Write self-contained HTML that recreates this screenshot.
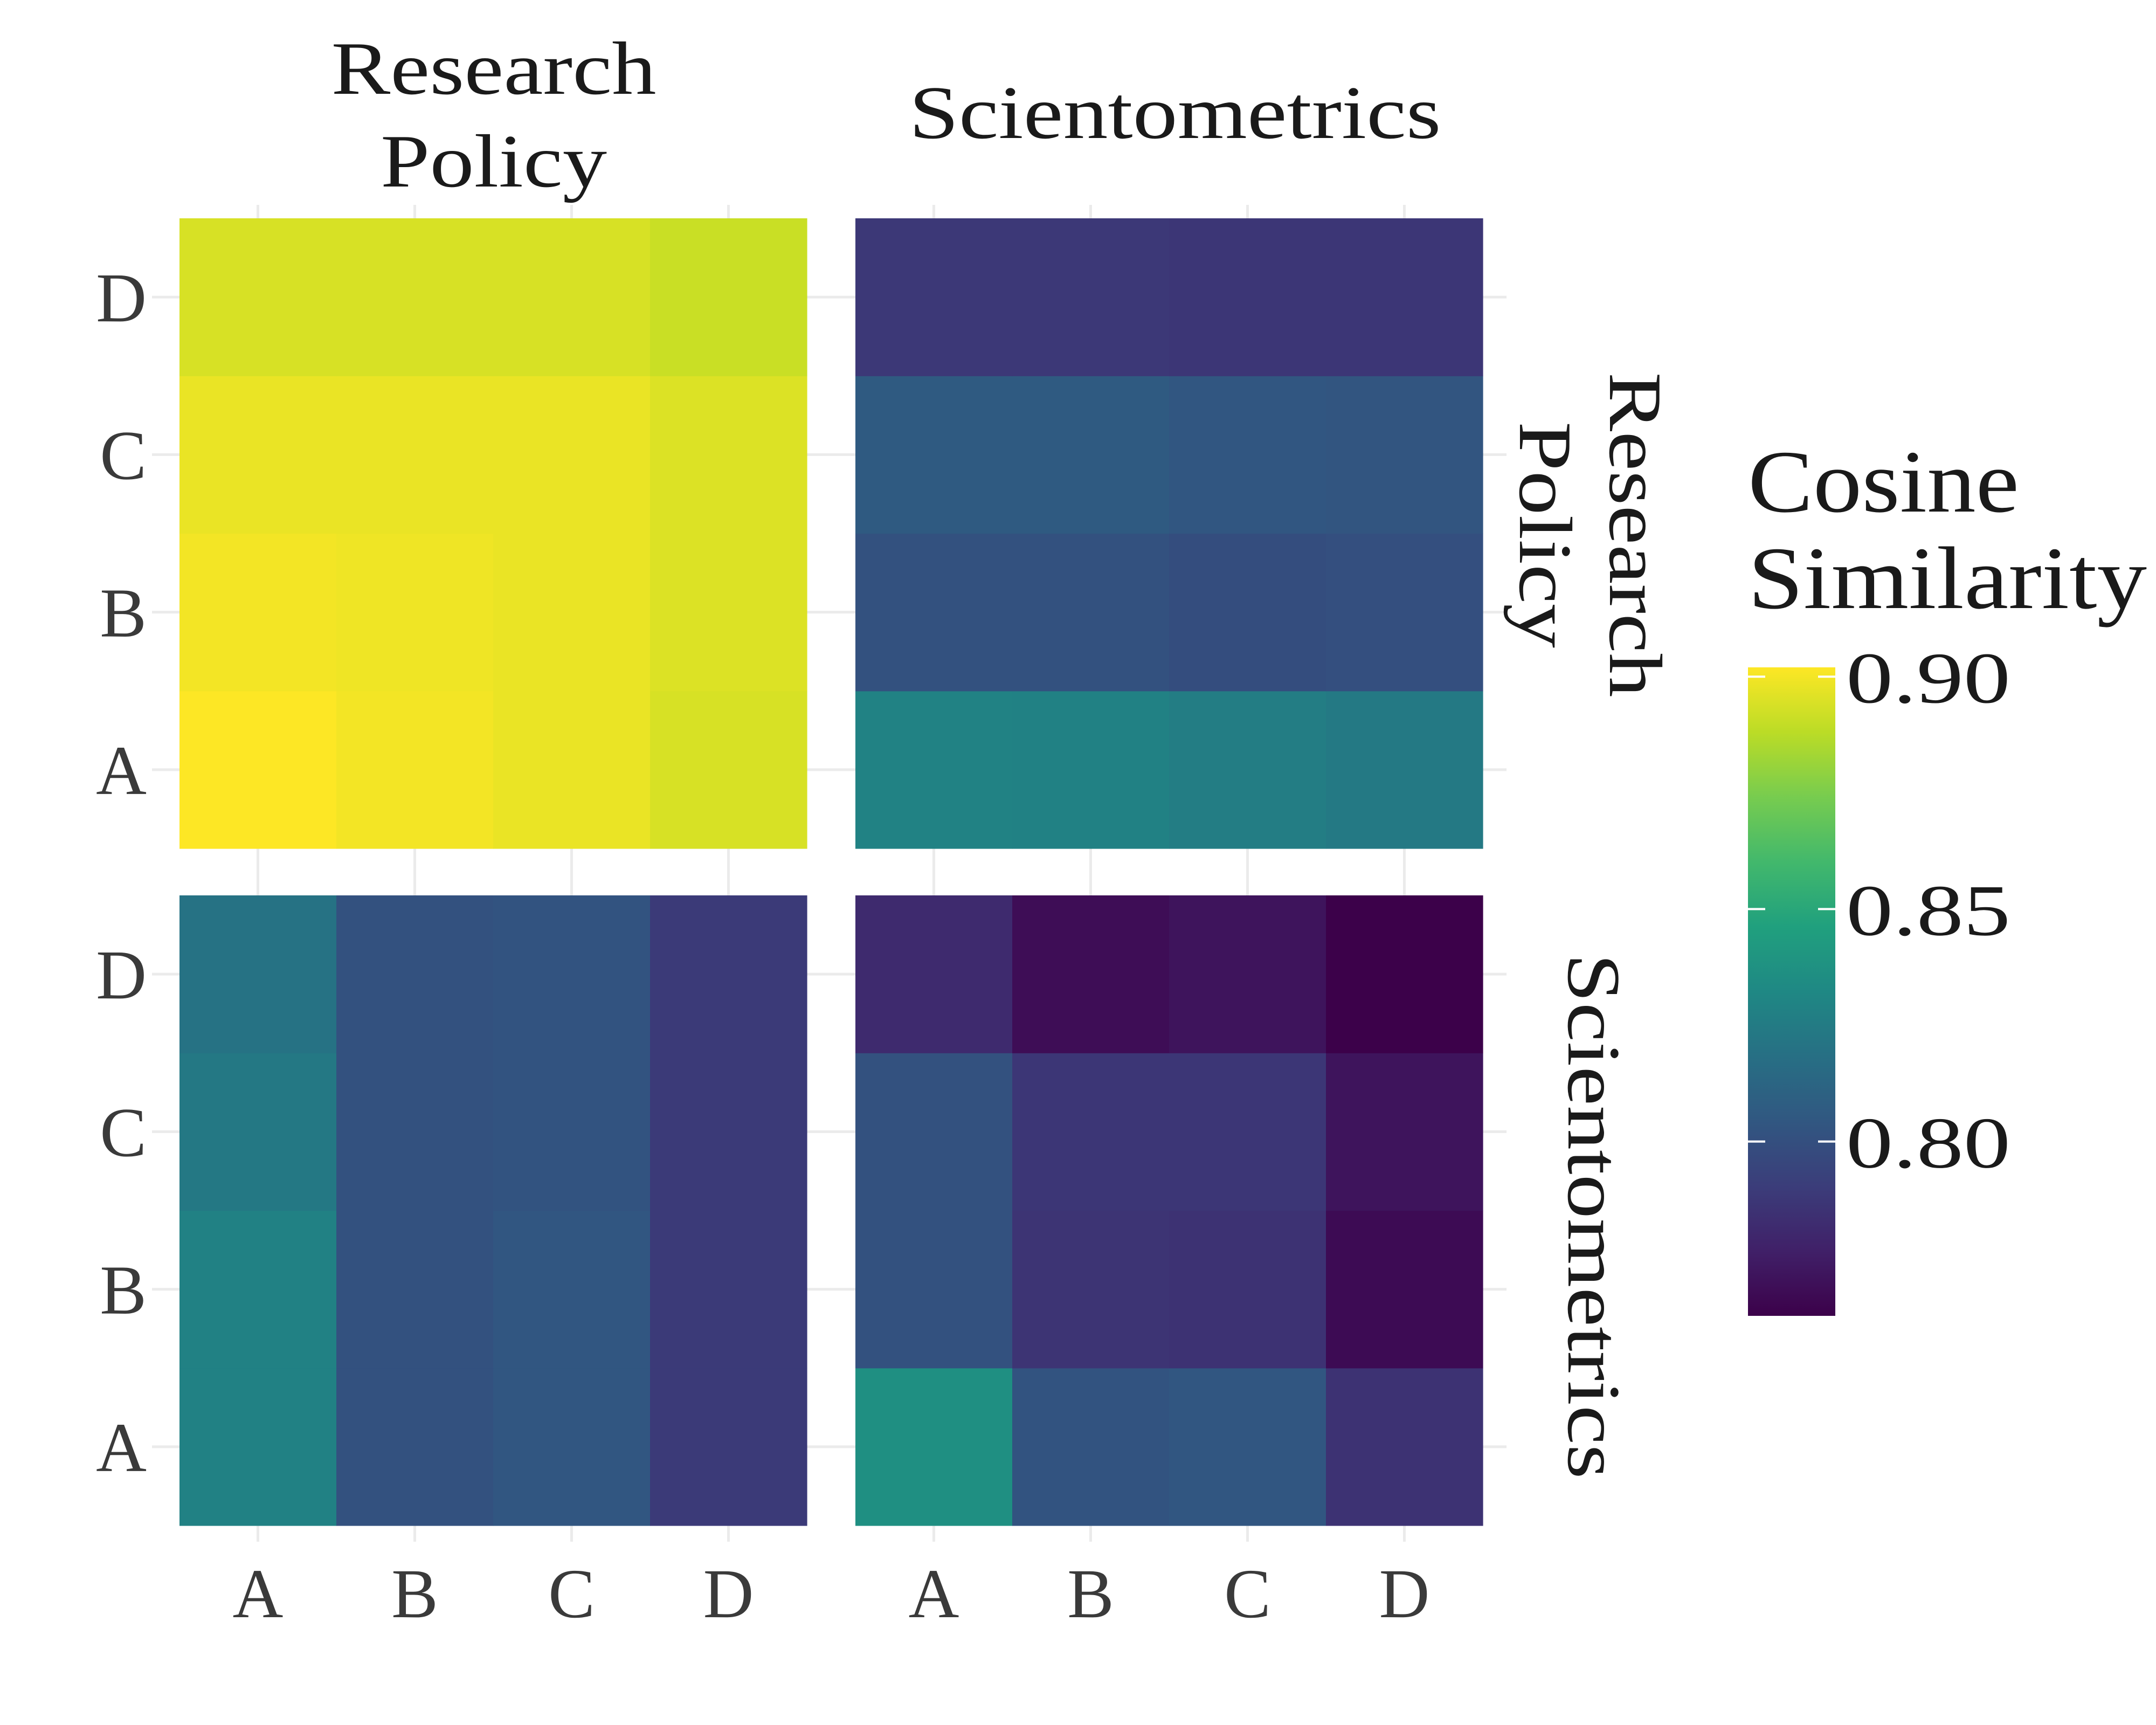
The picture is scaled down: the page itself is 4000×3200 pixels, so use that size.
<!DOCTYPE html>
<html><head><meta charset="utf-8"><style>
html,body{margin:0;padding:0;background:#fff}
svg{display:block}
text{font-family:"Liberation Serif",serif}
</style></head><body>
<svg id="chart" width="4000" height="3200" viewBox="0 0 4000 3200" xmlns="http://www.w3.org/2000/svg">
<defs><linearGradient id="vir" x1="0" y1="1" x2="0" y2="0"></linearGradient></defs>
<g id="grid"></g><g id="tiles"></g><g id="labels"></g><g id="legend"></g>
</svg>
<script>
const categories = ["A","B","C","D"];
const journals = ["Research Policy","Scientometrics"];
const rpRp = [[0.902,0.900,0.898,0.894],[0.900,0.899,0.898,0.895],[0.898,0.898,0.898,0.895],[0.894,0.894,0.894,0.891]];
const rpSci = [[0.829,0.828,0.826,0.824],[0.801,0.801,0.799,0.800],[0.806,0.806,0.804,0.803],[0.788,0.788,0.787,0.787]];
const sciRp = [[0.828,0.801,0.804,0.789],[0.828,0.801,0.804,0.789],[0.823,0.801,0.802,0.789],[0.820,0.801,0.802,0.789]];
const sciSci = [[0.836,0.802,0.804,0.785],[0.801,0.786,0.785,0.767],[0.801,0.787,0.787,0.771],[0.781,0.768,0.771,0.7625]];
const legendTicks = [0.80,0.85,0.90];
const vMin = 0.7625, vMax = 0.902;

const NS="http://www.w3.org/2000/svg";
function mk(tag,attrs,parent){const e=document.createElementNS(NS,tag);for(const k in attrs)e.setAttribute(k,attrs[k]);parent.appendChild(e);return e;}
const vir=["#440154","#482475","#414487","#355f8d","#2a788e","#21918c","#22a884","#44bf70","#7ad151","#bddf26","#fde725"];
function hex(h){return [1,3,5].map(i=>parseInt(h.substr(i,2),16));}
function color(v){let t=(v-vMin)/(vMax-vMin);t=Math.max(0,Math.min(1,t));const p=t*10,i=Math.min(9,Math.floor(p)),f=p-i;const a=hex(vir[i]),b=hex(vir[i+1]);const d=0.88+0.12*t;return `rgb(${a.map((c,k)=>Math.round((c+(b[k]-c)*f)*d)).join(',')})`;}

const panelX=[[333,1497],[1587,2751]];
const panelY=[[405,1574],[1661,2830]];
const data=[[rpRp,rpSci],[sciRp,sciSci]];
function xScale(pc,i){const [a,b]=panelX[pc];const w=(b-a)/4;return a+w*(i+0.5);}
function yScale(pr,i){const [a,b]=panelY[pr];const h=(b-a)/4;return b-h*(i+0.5);}

const grid=document.getElementById('grid'),tiles=document.getElementById('tiles'),labels=document.getElementById('labels');
for(let pr=0;pr<2;pr++)for(let i=0;i<4;i++){const y=yScale(pr,i);const l=mk('line',{x1:282,x2:2795,y1:y,y2:y,stroke:'#ebebeb','stroke-width':5},grid);}
for(let pc=0;pc<2;pc++)for(let i=0;i<4;i++){const x=xScale(pc,i);const l=mk('line',{x1:x,x2:x,y1:380,y2:2860,stroke:'#ebebeb','stroke-width':5},grid);}

for(let pr=0;pr<2;pr++)for(let pc=0;pc<2;pc++){
  const w=(panelX[pc][1]-panelX[pc][0])/4,h=(panelY[pr][1]-panelY[pr][0])/4;
  for(let yi=0;yi<4;yi++)for(let xi=0;xi<4;xi++){
    const v=data[pr][pc][yi][xi];
    const r=mk('rect',{x:xScale(pc,xi)-w/2,y:yScale(pr,yi)-h/2,width:w+0.6,height:h+0.6,fill:color(v)},tiles);
    
    
  }
}
for(let pr=0;pr<2;pr++)for(let i=0;i<4;i++){const t=mk('text',{x:272,y:yScale(pr,i)+45,'text-anchor':'end','font-size':130,fill:'#3a3a3a'},labels);t.textContent=categories[i];}
for(let pc=0;pc<2;pc++)for(let i=0;i<4;i++){const t=mk('text',{x:xScale(pc,i),y:3000,'text-anchor':'middle','font-size':130,fill:'#3a3a3a'},labels);t.textContent=categories[i];}
function txt(s,attrs,name){const t=mk('text',Object.assign({'font-size':140,fill:'#1a1a1a','text-anchor':'middle',lengthAdjust:'spacingAndGlyphs'},attrs),labels);t.textContent=s;return t;}
txt('Research',{x:916,y:174,textLength:603},'top-strip-research-policy');
txt('Policy',{x:916,y:346,textLength:420},'top-strip-research-policy-line2');
txt(journals[1],{x:2180,y:256,textLength:987},'top-strip-scientometrics');
txt('Research',{x:0,y:0,textLength:603,transform:'translate(2987,992) rotate(90)'},'right-strip-research-policy');
txt('Policy',{x:0,y:0,textLength:420,transform:'translate(2820,992) rotate(90)'},'right-strip-research-policy-line2');
txt(journals[1],{x:0,y:0,textLength:975,transform:'translate(2910,2256) rotate(90)'},'right-strip-scientometrics');
const lg=document.getElementById('legend');
const grad=document.getElementById('vir');
vir.forEach((c,i)=>mk('stop',{offset:(i*10)+'%','stop-color':color(vMin+(vMax-vMin)*i/10)},grad));
const cbTop=1238,cbBot=2441,cbX=3243,cbW=162;
function lScale(v){return cbBot-(v-vMin)/(vMax-vMin)*(cbBot-cbTop);}
const cb=mk('rect',{x:cbX,y:cbTop,width:cbW,height:cbBot-cbTop,fill:'url(#vir)'},lg);

legendTicks.forEach(v=>{const y=lScale(v);
  const a=mk('line',{x1:cbX,x2:cbX+32,y1:y,y2:y,stroke:'#fff','stroke-width':4},lg);
  const b=mk('line',{x1:cbX+cbW-32,x2:cbX+cbW,y1:y,y2:y,stroke:'#fff','stroke-width':4},lg);
  const t=mk('text',{x:3425,y:y+48,'font-size':135,fill:'#1a1a1a',textLength:305,lengthAdjust:'spacingAndGlyphs'},lg);t.textContent=v.toFixed(2);});
const t1=mk('text',{x:3243,y:949,'font-size':165,fill:'#1a1a1a',textLength:503,lengthAdjust:'spacingAndGlyphs'},lg);t1.textContent='Cosine';
const t2=mk('text',{x:3243,y:1128,'font-size':165,fill:'#1a1a1a',textLength:740,lengthAdjust:'spacingAndGlyphs'},lg);t2.textContent='Similarity';
</script>
</body></html>
